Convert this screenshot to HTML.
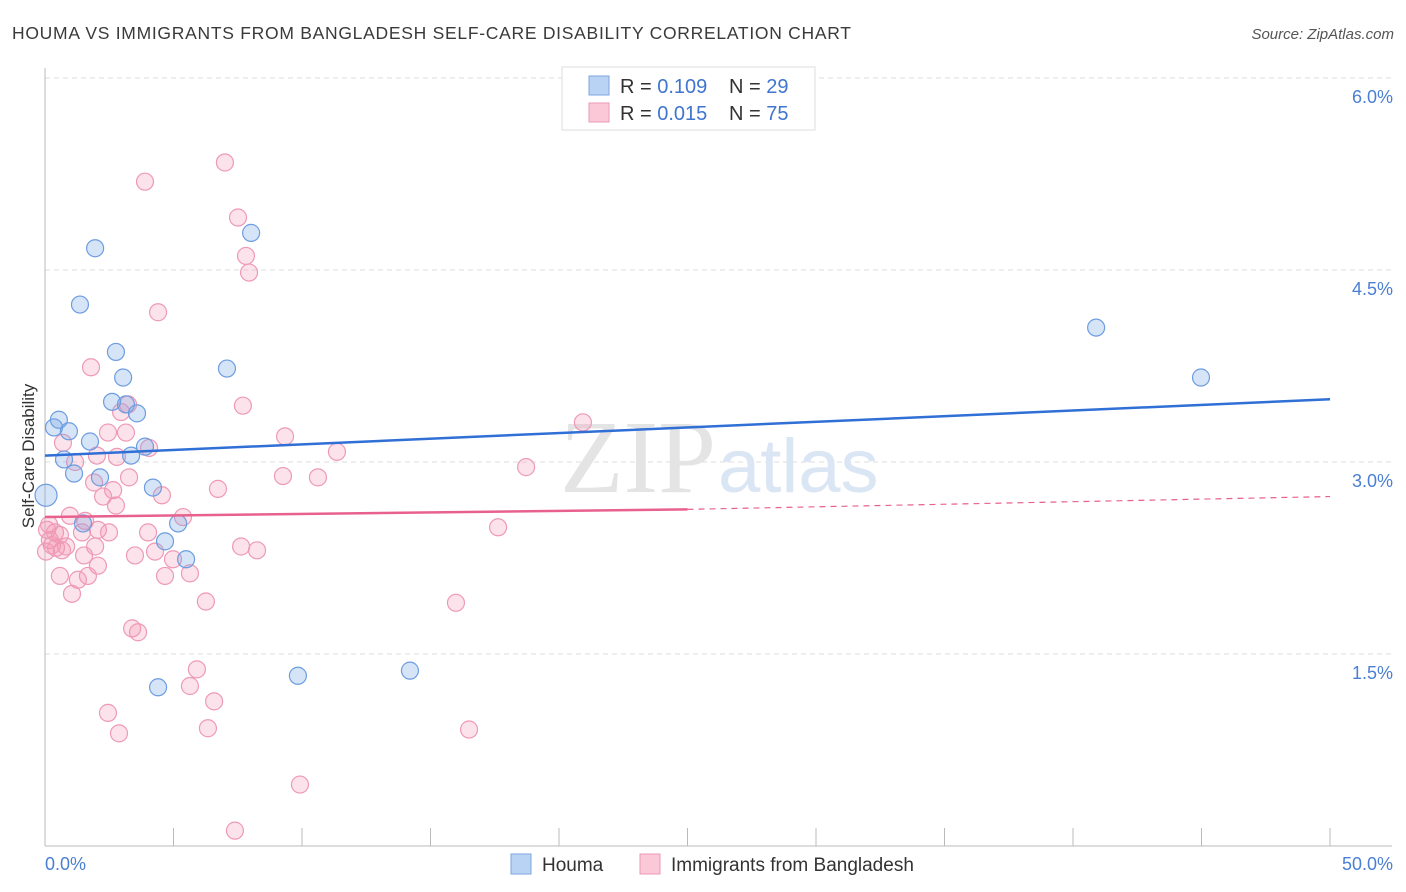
<!DOCTYPE html>
<html><head><meta charset="utf-8"><style>
body{margin:0;background:#fff;font-family:"Liberation Sans",sans-serif;}
svg{display:block}
</style></head><body>
<svg width="1406" height="892" xmlns="http://www.w3.org/2000/svg">
<text x="12" y="39" font-size="17.5" fill="#3a3a3a" textLength="839" lengthAdjust="spacing">HOUMA VS IMMIGRANTS FROM BANGLADESH SELF-CARE DISABILITY CORRELATION CHART</text>
<text x="1394" y="39" font-size="15" fill="#555" font-style="italic" text-anchor="end">Source: ZipAtlas.com</text>
<g id="grid"></g>
<g id="axes"></g>
<text x="716" y="492" font-size="104" font-family="Liberation Serif" fill="#e4e4e4" text-anchor="end">ZIP</text>
<text x="718" y="492" font-size="76" fill="#dbe6f5">atlas</text>
<g id="pts"></g>
<g id="trends"></g>
<text transform="translate(34,456) rotate(-90)" font-size="17" fill="#333" text-anchor="middle">Self-Care Disability</text>
<g>
<rect x="562" y="67" width="253" height="63" fill="#fff" stroke="#ddd"/>
<rect x="589" y="76" width="20" height="19" fill="#b9d3f5" stroke="#7ea6e0"/>
<rect x="589" y="103" width="20" height="19" fill="#fbc8d7" stroke="#eb98b4"/>
<text x="620" y="93" font-size="20" fill="#333">R = <tspan fill="#3f75d0">0.109</tspan></text>
<text x="729" y="93" font-size="20" fill="#333">N = <tspan fill="#3f75d0">29</tspan></text>
<text x="620" y="120" font-size="20" fill="#333">R = <tspan fill="#3f75d0">0.015</tspan></text>
<text x="729" y="120" font-size="20" fill="#333">N = <tspan fill="#3f75d0">75</tspan></text>
</g>
<g>
<rect x="511" y="854" width="20" height="20" fill="#b9d3f5" stroke="#7ea6e0"/>
<text x="542" y="871" font-size="19" fill="#333">Houma</text>
<rect x="640" y="854" width="20" height="20" fill="#fbc8d7" stroke="#eb98b4"/>
<text x="671" y="871" font-size="19" fill="#333">Immigrants from Bangladesh</text>
</g>
</svg>
<script>
const yTicks=[1.5,3.0,4.5,6.0];
const yTickLabels=["1.5%","3.0%","4.5%","6.0%"];
const xTickCount=10;
const xLabels=["0.0%","50.0%"];
const houmaX=[0.04,0.54,0.35,0.93,1.75,0.74,1.13,2.14,1.48,1.95,1.36,2.76,3.04,2.61,3.15,3.58,3.89,3.35,4.20,5.18,4.67,5.49,4.40,7.08,8.02,9.84,14.20,40.90,44.98];
const houmaY=[2.74,3.33,3.27,3.24,3.16,3.02,2.91,2.88,2.52,4.67,4.23,3.86,3.66,3.47,3.45,3.38,3.12,3.05,2.80,2.52,2.38,2.24,1.24,3.73,4.79,1.33,1.37,4.05,3.66];
const bangX=[7.00,3.89,7.51,7.82,7.94,4.40,1.79,7.70,3.23,2.96,2.45,3.15,9.34,11.36,0.70,4.05,2.02,2.80,1.17,18.72,20.93,3.27,9.26,10.62,1.91,2.65,4.55,6.73,2.26,2.76,0.97,5.37,1.56,0.39,2.49,4.01,1.44,0.19,0.27,0.43,0.66,0.82,1.95,7.63,8.25,4.28,3.50,1.52,4.98,17.63,2.06,0.58,1.67,1.28,4.67,5.64,1.05,6.26,15.99,3.39,3.62,5.91,5.64,6.58,2.45,6.34,2.88,16.50,9.92,7.39,0.08,0.04,0.16,0.58,2.06];
const bangY=[5.34,5.19,4.91,4.61,4.48,4.17,3.74,3.44,3.45,3.39,3.23,3.23,3.20,3.08,3.15,3.11,3.05,3.04,3.00,2.96,3.31,2.88,2.89,2.88,2.84,2.78,2.74,2.79,2.73,2.66,2.58,2.57,2.54,2.45,2.45,2.45,2.45,2.39,2.35,2.33,2.31,2.34,2.34,2.34,2.31,2.30,2.27,2.27,2.24,2.49,2.19,2.11,2.11,2.08,2.11,2.13,1.97,1.91,1.90,1.70,1.67,1.38,1.25,1.13,1.04,0.92,0.88,0.91,0.48,0.12,2.47,2.30,2.51,2.43,2.47];
const houmaTrend=[3.05,3.49];
const bangTrend=[2.57,2.63,2.73];
const NS="http://www.w3.org/2000/svg";
const X0=45,X1=1330,Y0=846,PXPER=128;
function sx(v){return X0+v/50*(X1-X0);}
function sy(v){return Y0-v*PXPER;}
function mk(t,a,p){const e=document.createElementNS(NS,t);for(const k in a)e.setAttribute(k,a[k]);p.appendChild(e);return e;}
const grid=document.getElementById('grid'),axes=document.getElementById('axes'),pts=document.getElementById('pts'),tr=document.getElementById('trends');
yTicks.forEach((v,i)=>{
 const l=mk('line',{x1:X0,x2:1392,y1:sy(v),y2:sy(v),stroke:'#ddd','stroke-dasharray':'5,4'},grid);
 
 
 const t=mk('text',{x:1393,y:sy(v)+25,'font-size':18,fill:'#4a7fd4','text-anchor':'end'},grid);
 t.textContent=yTickLabels[i];
 
 
});
mk('line',{x1:X0,x2:X0,y1:68,y2:Y0,stroke:'#bbb'},axes);
mk('line',{x1:X0,x2:1392,y1:Y0,y2:Y0,stroke:'#bbb'},axes);
for(let i=1;i<=xTickCount;i++){const x=sx(50*i/xTickCount);const t=mk('line',{x1:x,x2:x,y1:Y0,y2:828,stroke:'#bbb'},axes);}
const xl0=mk('text',{x:45,y:870,'font-size':18,fill:'#4a7fd4'},axes);xl0.textContent=xLabels[0];


const xl1=mk('text',{x:1393,y:870,'font-size':18,fill:'#4a7fd4','text-anchor':'end'},axes);xl1.textContent=xLabels[1];


bangX.forEach((v,i)=>{const c=mk('circle',{cx:sx(v),cy:sy(bangY[i]),r:8.5,fill:'rgba(243,150,180,0.28)',stroke:'#ee9ab6','stroke-width':1.2},pts);
 
 });
houmaX.forEach((v,i)=>{const c=mk('circle',{cx:sx(v),cy:sy(houmaY[i]),r:i==0?11:8.5,fill:'rgba(120,165,230,0.3)',stroke:'#6d9de0','stroke-width':1.2},pts);
 
 });
const hl=mk('line',{x1:sx(0),y1:sy(houmaTrend[0]),x2:sx(50),y2:sy(houmaTrend[1]),stroke:'#2f6fd6','stroke-width':2.5},tr);


const bl=mk('line',{x1:sx(0),y1:sy(bangTrend[0]),x2:sx(25),y2:sy(bangTrend[1]),stroke:'#e8618e','stroke-width':2.5},tr);


const bd=mk('line',{x1:sx(25),y1:sy(bangTrend[1]),x2:sx(50),y2:sy(bangTrend[2]),stroke:'#e8618e','stroke-width':1.2,'stroke-dasharray':'6,5'},tr);


</script>
</body></html>
